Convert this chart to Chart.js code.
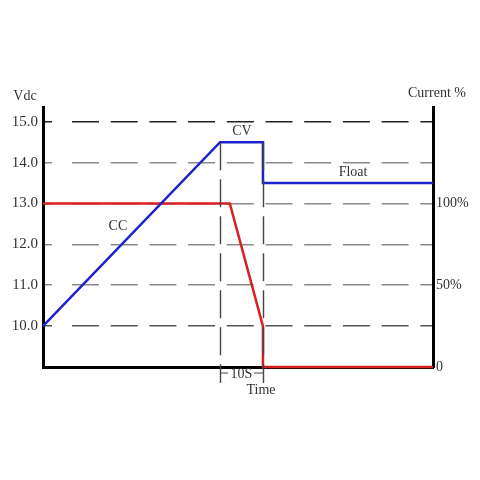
<!DOCTYPE html>
<html><head><meta charset="utf-8">
<script src="https://cdn.jsdelivr.net/npm/chart.js@4"></script>
<style>html,body{margin:0;padding:0;background:#fff}#wrap{width:480px;height:480px}</style>
</head><body><div id="wrap"><canvas id="c" width="480" height="480"></canvas></div>
<script>
// ---- data ----
const voltTicks = [10, 11, 12, 13, 14, 15];
const voltTickLabels = ['10.0', '11.0', '12.0', '13.0', '14.0', '15.0'];
const currentTicks = [0, 50, 100];
const currentTickLabels = ['0', '50%', '100%'];
const voltageX = [0, 45.4, 56.4, 56.4, 100];
const voltageY = [10, 14.5, 14.5, 13.5, 13.5];
const currentX = [0, 47.9, 56.4, 56.4, 100];
const currentY = [100, 100, 25, 0, 0];
const markerX = [45.4, 56.4];
const markerTopV = 14.5;
const labels = [
  {text: 'CV', x: 51.0, y: 14.77},
  {text: 'CC', x: 19.2, y: 12.45},
  {text: 'Float', x: 79.5, y: 13.75}
];

const FONT = '"Liberation Serif", "DejaVu Serif", serif';
// grid dash: short stub at the axis, then regular long dashes
const gridDash = [7, 20];
for (let i = 0; i < 10; i++) gridDash.push(27, 11.7);

const textPlugin = {
  id: 'texts',
  afterDatasetsDraw(chart) {
    const {ctx, scales: {x, y}, chartArea} = chart;
    ctx.save();
    // vertical dashed marker lines
    ctx.strokeStyle = '#444';
    ctx.lineWidth = 1.4;
    ctx.setLineDash([28, 9]);
    markerX.forEach(v => {
      const px = Math.round(x.getPixelForValue(v)) + 0.5;
      ctx.beginPath();
      ctx.moveTo(px, y.getPixelForValue(markerTopV));
      ctx.lineTo(px, chartArea.bottom + 16);
      ctx.stroke();
    });
    ctx.setLineDash([]);
    // 10S dimension
    const x1 = x.getPixelForValue(markerX[0]), x2 = x.getPixelForValue(markerX[1]);
    const dy = chartArea.bottom + 6;
    ctx.lineWidth = 1;
    ctx.strokeStyle = '#444';
    ctx.beginPath();
    ctx.moveTo(x1, dy); ctx.lineTo(x1 + 8, dy);
    ctx.moveTo(x2 - 9, dy); ctx.lineTo(x2, dy);
    ctx.stroke();
    ctx.fillStyle = '#333';
    ctx.font = '14px ' + FONT;
    ctx.textAlign = 'center';
    ctx.textBaseline = 'middle';
    ctx.fillText('10S', (x1 + x2) / 2, dy + 1);
    ctx.fillText('Time', x.getPixelForValue(55.9), chartArea.bottom + 23);
    // series labels
    labels.forEach(l => ctx.fillText(l.text, x.getPixelForValue(l.x), y.getPixelForValue(l.y)));
    // axis titles
    ctx.fillText('Vdc', 25, 96);
    ctx.fillText('Current %', 437, 93);
    ctx.restore();
  }
};

const gridColors = {10: '#555', 11: '#8a8a8a', 12: '#8a8a8a', 13: '#8a8a8a', 14: '#8a8a8a', 15: '#222'};

new Chart(document.getElementById('c'), {
  type: 'scatter',
  data: {
    datasets: [
      {
        data: voltageX.map((v, i) => ({x: v, y: voltageY[i]})),
        showLine: true, borderColor: '#1c22cc', borderWidth: 2.5, pointRadius: 0,
        yAxisID: 'y', clip: false, order: 1
      },
      {
        data: currentX.map((v, i) => ({x: v, y: currentY[i]})),
        showLine: true, borderColor: '#d92020', borderWidth: 2.5, pointRadius: 0,
        yAxisID: 'y1', clip: false, order: 2
      }
    ]
  },
  options: {
    responsive: false,
    animation: false,
    layout: {padding: {top: 107, bottom: 113, left: 0, right: 0}},
    plugins: {legend: {display: false}, tooltip: {enabled: false}},
    scales: {
      x: {
        type: 'linear', min: 0, max: 100,
        ticks: {display: false},
        grid: {display: false},
        border: {display: true, color: '#000', width: 3},
        afterFit(s) { s.height = 0; }
      },
      y: {
        position: 'left', min: 9, max: 15.36,
        afterBuildTicks(s) { s.ticks = voltTicks.map(v => ({value: v})); },
        afterFit(s) { s.width = 43; },
        ticks: {
          callback: (v) => voltTickLabels[voltTicks.indexOf(v)],
          color: '#333', font: {family: FONT, size: 15}, padding: 5
        },
        grid: {
          drawTicks: false,
          color: (c) => gridColors[c.tick && c.tick.value] || 'rgba(0,0,0,0)',
          lineWidth: 1.5
        },
        border: {display: true, color: '#000', width: 3, dash: gridDash, dashOffset: 0}
      },
      y1: {
        position: 'right', min: 0, max: 159,
        afterBuildTicks(s) { s.ticks = currentTicks.map(v => ({value: v})); },
        afterFit(s) { s.width = 47; },
        ticks: {
          callback: (v) => currentTickLabels[currentTicks.indexOf(v)],
          color: '#333', font: {family: FONT, size: 14}, padding: 3
        },
        grid: {display: false, drawTicks: false},
        border: {display: true, color: '#000', width: 3}
      }
    }
  },
  plugins: [textPlugin]
});
</script></body></html>
